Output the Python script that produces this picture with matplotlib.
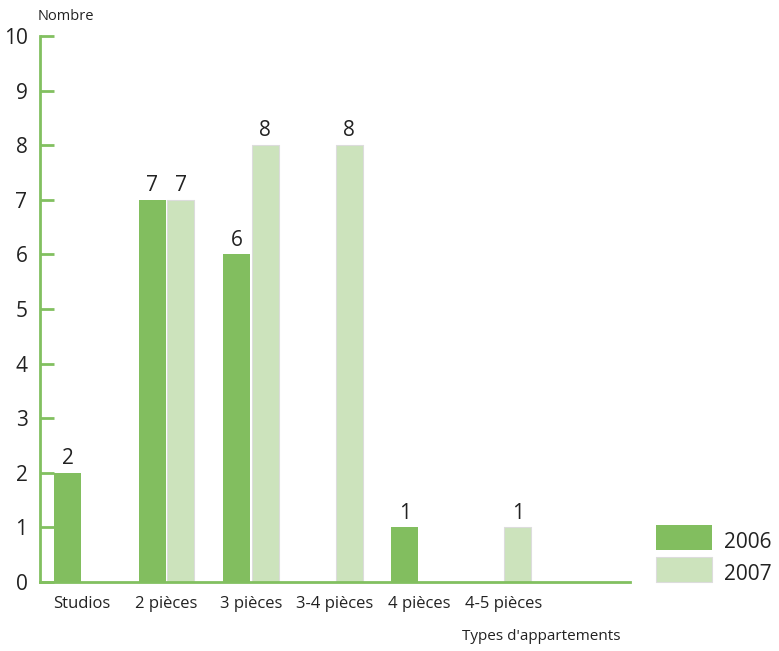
import matplotlib
matplotlib.use("Agg")
import matplotlib.pyplot as plt
from matplotlib.patches import Rectangle
import numpy as np

categories = ["Studios", "2 pièces", "3 pièces", "3-4 pièces", "4 pièces", "4-5 pièces", ""]
values_2006 = [2, 7, 6, 0, 1, 0, 0]
values_2007 = [0, 7, 8, 8, 0, 1, 0]
series_names = ["2006", "2007"]
y_ticks = list(range(0, 11))

dark = "#82BE5F"
light = "#CCE3BC"
axis_green = "#82C060"
text_col = "#222222"

plt.rcParams['font.family'] = ['Open Sans', 'DejaVu Sans']

W, H = 779, 651
fig = plt.figure(figsize=(W / 100, H / 100), dpi=100)
ax = fig.add_axes([40 / W, (H - 582) / H, (630 - 40) / W, (582 - 36) / H])

x = np.arange(len(categories))
bw = 0.32
off = 0.17
b1 = ax.bar(x - off, values_2006, width=bw, color=dark, edgecolor="none", zorder=2)
b2 = ax.bar(x + off, values_2007, width=bw, color=light, edgecolor="#dcdcdc", linewidth=0.8, zorder=2)

for bars, vals in ((b1, values_2006), (b2, values_2007)):
    for r, v in zip(bars, vals):
        if v > 0:
            ax.text(r.get_x() + r.get_width() / 2, v + 0.07, str(v), ha="center", va="bottom",
                    fontsize=15, color=text_col)

ax.set_xlim(-0.5, 6.5)
ax.set_ylim(0, 10)
ax.set_yticks(y_ticks)
ax.set_yticklabels([str(t) for t in y_ticks], fontsize=15, color=text_col)
ax.set_xticks(x)
ax.set_xticklabels(categories, fontsize=12, color=text_col)
ax.tick_params(axis="y", direction="in", length=10, width=2, color=axis_green, pad=9)
ax.tick_params(axis="x", length=0, pad=10)

for s in ("top", "right"):
    ax.spines[s].set_visible(False)
for s in ("left", "bottom"):
    ax.spines[s].set_color(axis_green)
    ax.spines[s].set_linewidth(2)
ax.spines["bottom"].set_zorder(3)

fig.text(38 / W, 1 - 17 / H, "Nombre", fontsize=10.5, color=text_col, ha="left", va="center")
fig.text(541 / W, 1 - 636 / H, "Types d'appartements", fontsize=11, color=text_col, ha="center", va="center")

# legend
for i, (name, col, ec) in enumerate(zip(series_names, [dark, light], ["none", "#dcdcdc"])):
    y0 = 525 + i * 32
    fig.add_artist(Rectangle((656 / W, 1 - (y0 + 25) / H), 56 / W, 25 / H, transform=fig.transFigure,
                             facecolor=col, edgecolor=ec, linewidth=0.8))
    fig.text(724 / W, 1 - (y0 + 18) / H, name, fontsize=15, color=text_col, ha="left", va="center")

fig.savefig("out.png", dpi=100)
